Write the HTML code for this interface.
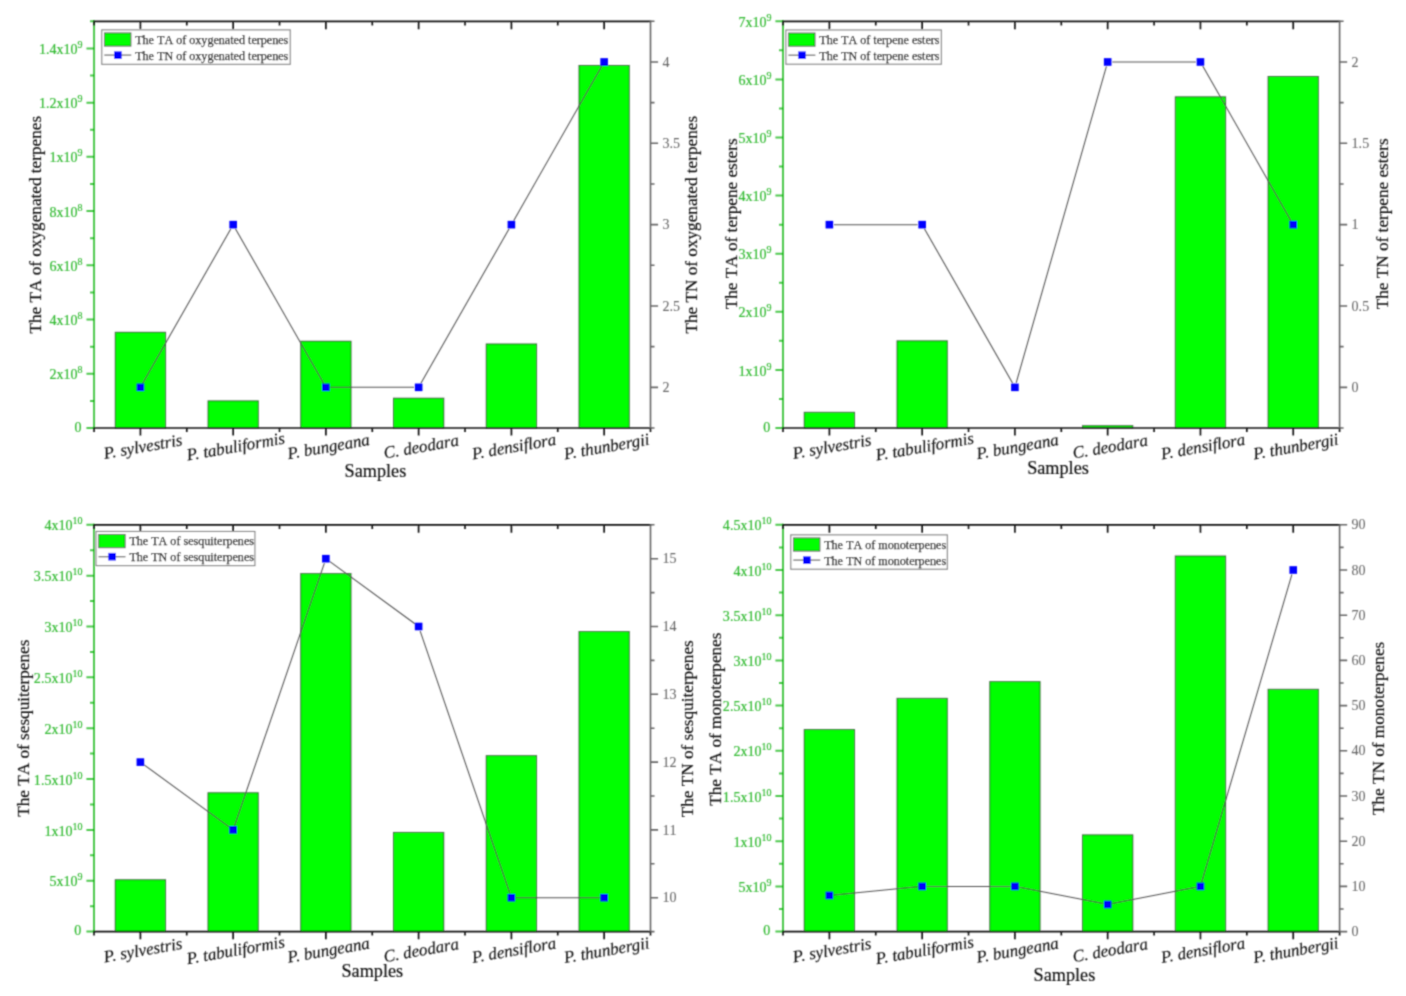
<!DOCTYPE html>
<html><head><meta charset="utf-8"><title>Terpene charts</title>
<style>html,body{margin:0;padding:0;background:#fff}body{width:1406px;height:996px;overflow:hidden}svg{display:block;font-family:"Liberation Serif",serif;font-kerning:none}</style>
</head><body>
<svg width="1406" height="996" viewBox="0 0 1406 996">
<rect width="1406" height="996" fill="#fff"/>
<defs><filter id="soft" filterUnits="userSpaceOnUse" x="0" y="0" width="1406" height="996"><feConvolveMatrix order="3" kernelMatrix="0.04 0.12 0.04 0.12 0.36 0.12 0.04 0.12 0.04" edgeMode="none"/></filter></defs>
<g filter="url(#soft)">
<g>
<rect x="115.27" y="332.29" width="50.3" height="95.71" fill="#00ff00" stroke="rgba(40,40,40,0.75)" stroke-width="1"/>
<rect x="208.01" y="400.89" width="50.3" height="27.11" fill="#00ff00" stroke="rgba(40,40,40,0.75)" stroke-width="1"/>
<rect x="300.75" y="341.24" width="50.3" height="86.76" fill="#00ff00" stroke="rgba(40,40,40,0.75)" stroke-width="1"/>
<rect x="393.5" y="398.18" width="50.3" height="29.82" fill="#00ff00" stroke="rgba(40,40,40,0.75)" stroke-width="1"/>
<rect x="486.24" y="343.95" width="50.3" height="84.05" fill="#00ff00" stroke="rgba(40,40,40,0.75)" stroke-width="1"/>
<rect x="578.98" y="65.49" width="50.3" height="362.51" fill="#00ff00" stroke="rgba(40,40,40,0.75)" stroke-width="1"/>
<g stroke="rgba(0,176,0,0.7)" stroke-width="2" fill="none">
<path d="M94.05 20.3V429"/>
<path d="M94.05 428h-7.6M94.05 373.77h-7.6M94.05 319.55h-7.6M94.05 265.32h-7.6M94.05 211.09h-7.6M94.05 156.87h-7.6M94.05 102.64h-7.6M94.05 48.41h-7.6M94.05 400.89h-4M94.05 346.66h-4M94.05 292.43h-4M94.05 238.21h-4M94.05 183.98h-4M94.05 129.75h-4M94.05 75.53h-4M94.05 21.3h-4"/>
</g>
<g stroke="#161616" stroke-width="1.7" fill="none">
<path d="M93.45 21.3H651.3"/>
<path d="M93.45 428H651.3"/>
<path d="M140.42 428v7.6M140.42 21.3v8M233.16 428v7.6M233.16 21.3v8M325.9 428v7.6M325.9 21.3v8M418.65 428v7.6M418.65 21.3v8M511.39 428v7.6M511.39 21.3v8M604.13 428v7.6M604.13 21.3v8M94.05 428v4M94.05 21.3v4.2M186.79 428v4M186.79 21.3v4.2M279.53 428v4M279.53 21.3v4.2M372.28 428v4M372.28 21.3v4.2M465.02 428v4M465.02 21.3v4.2M557.76 428v4M557.76 21.3v4.2M650.5 428v4"/>
</g>
<g stroke="#676767" stroke-width="1.6" fill="none">
<path d="M650.5 21.3V428M650.5 387.33h7.6M650.5 305.99h7.6M650.5 224.65h7.6M650.5 143.31h7.6M650.5 61.97h7.6M650.5 428h4M650.5 346.66h4M650.5 265.32h4M650.5 183.98h4M650.5 102.64h4M650.5 21.3h4"/>
</g>
<g font-size="14.05" fill="#32ba32" stroke="#32ba32" stroke-width="0.2" text-anchor="end">
<text x="81.45" y="431.8">0</text>
<text x="82.55" y="379.37">2x10<tspan font-size="10" dy="-6.0">8</tspan></text>
<text x="82.55" y="325.15">4x10<tspan font-size="10" dy="-6.0">8</tspan></text>
<text x="82.55" y="270.92">6x10<tspan font-size="10" dy="-6.0">8</tspan></text>
<text x="82.55" y="216.69">8x10<tspan font-size="10" dy="-6.0">8</tspan></text>
<text x="82.55" y="162.47">1x10<tspan font-size="10" dy="-6.0">9</tspan></text>
<text x="82.55" y="108.24">1.2x10<tspan font-size="10" dy="-6.0">9</tspan></text>
<text x="82.55" y="54.01">1.4x10<tspan font-size="10" dy="-6.0">9</tspan></text>
</g>
<g font-size="14.05" fill="#666666" stroke="#666666" stroke-width="0.05" text-anchor="start">
<text x="662.5" y="391.93">2</text>
<text x="662.5" y="310.59">2.5</text>
<text x="662.5" y="229.25">3</text>
<text x="662.5" y="147.91">3.5</text>
<text x="662.5" y="66.57">4</text>
</g>
<path d="M142.7 383.33L230.88 228.65M235.44 228.65L323.63 383.33M330.5 387.33L414.05 387.33M420.92 383.33L509.11 228.65M513.67 220.65L601.85 65.97" stroke="#525252" stroke-width="1.05" fill="none"/>
<rect x="136.62" y="383.53" width="7.6" height="7.6" fill="#0000ff"/>
<rect x="229.36" y="220.85" width="7.6" height="7.6" fill="#0000ff"/>
<rect x="322.1" y="383.53" width="7.6" height="7.6" fill="#0000ff"/>
<rect x="414.85" y="383.53" width="7.6" height="7.6" fill="#0000ff"/>
<rect x="507.59" y="220.85" width="7.6" height="7.6" fill="#0000ff"/>
<rect x="600.33" y="58.17" width="7.6" height="7.6" fill="#0000ff"/>
<rect x="101.8" y="29.9" width="188.4" height="34.4" fill="#fff" stroke="#7e7e7e" stroke-width="1.1"/>
<rect x="104.5" y="32.9" width="26.4" height="13.2" fill="#00ff00" stroke="rgba(40,40,40,0.75)" stroke-width="1"/>
<path d="M104.3 55.1h27" stroke="#707070" stroke-width="1.3"/>
<rect x="114.1" y="51.3" width="7.6" height="7.6" fill="#0000ff"/>
<g font-size="12.1" fill="#141414" stroke="#141414" stroke-width="0.25">
<text x="135.2" y="43.8">The TA of oxygenated terpenes</text>
<text x="135.2" y="59.6">The TN of oxygenated terpenes</text>
</g>
<g font-size="17.2" fill="#141414" stroke="#141414" stroke-width="0.2" text-anchor="middle">
<text transform="translate(41.4 224.7) rotate(-90)">The TA of oxygenated terpenes</text>
<text transform="translate(697 224.7) rotate(-90)">The TN of oxygenated terpenes</text>
<text x="375.4" y="477" font-size="18.2">Samples</text>
</g>
<g font-size="16.9" fill="#141414" stroke="#141414" stroke-width="0.15" text-anchor="middle" font-style="italic" style="font-kerning:normal">
<text transform="translate(143.92 452) rotate(-10)">P. sylvestris</text>
<text transform="translate(236.66 452) rotate(-10)">P. tabuliformis</text>
<text transform="translate(329.4 452) rotate(-10)">P. bungeana</text>
<text transform="translate(422.15 452) rotate(-10)">C. deodara</text>
<text transform="translate(514.89 452) rotate(-10)">P. densiflora</text>
<text transform="translate(607.63 452) rotate(-10)">P. thunbergii</text>
</g>
</g>
<g>
<rect x="804.23" y="412.31" width="50.3" height="15.69" fill="#00ff00" stroke="rgba(40,40,40,0.75)" stroke-width="1"/>
<rect x="897" y="340.85" width="50.3" height="87.15" fill="#00ff00" stroke="rgba(40,40,40,0.75)" stroke-width="1"/>
<rect x="1082.53" y="425.68" width="50.3" height="2.32" fill="#00ff00" stroke="rgba(40,40,40,0.75)" stroke-width="1"/>
<rect x="1175.3" y="96.83" width="50.3" height="331.17" fill="#00ff00" stroke="rgba(40,40,40,0.75)" stroke-width="1"/>
<rect x="1268.07" y="76.5" width="50.3" height="351.5" fill="#00ff00" stroke="rgba(40,40,40,0.75)" stroke-width="1"/>
<g stroke="rgba(0,176,0,0.7)" stroke-width="2" fill="none">
<path d="M783 20.3V429"/>
<path d="M783 428h-7.6M783 369.9h-7.6M783 311.8h-7.6M783 253.7h-7.6M783 195.6h-7.6M783 137.5h-7.6M783 79.4h-7.6M783 21.3h-7.6M783 398.95h-4M783 340.85h-4M783 282.75h-4M783 224.65h-4M783 166.55h-4M783 108.45h-4M783 50.35h-4"/>
</g>
<g stroke="#161616" stroke-width="1.7" fill="none">
<path d="M782.4 21.3H1340.4"/>
<path d="M782.4 428H1340.4"/>
<path d="M829.38 428v7.6M829.38 21.3v8M922.15 428v7.6M922.15 21.3v8M1014.92 428v7.6M1014.92 21.3v8M1107.68 428v7.6M1107.68 21.3v8M1200.45 428v7.6M1200.45 21.3v8M1293.22 428v7.6M1293.22 21.3v8M783 428v4M783 21.3v4.2M875.77 428v4M875.77 21.3v4.2M968.53 428v4M968.53 21.3v4.2M1061.3 428v4M1061.3 21.3v4.2M1154.07 428v4M1154.07 21.3v4.2M1246.83 428v4M1246.83 21.3v4.2M1339.6 428v4"/>
</g>
<g stroke="#676767" stroke-width="1.6" fill="none">
<path d="M1339.6 21.3V428M1339.6 387.33h7.6M1339.6 305.99h7.6M1339.6 224.65h7.6M1339.6 143.31h7.6M1339.6 61.97h7.6M1339.6 428h4M1339.6 346.66h4M1339.6 265.32h4M1339.6 183.98h4M1339.6 102.64h4M1339.6 21.3h4"/>
</g>
<g font-size="14.05" fill="#32ba32" stroke="#32ba32" stroke-width="0.2" text-anchor="end">
<text x="770.4" y="431.8">0</text>
<text x="771.5" y="375.5">1x10<tspan font-size="10" dy="-6.0">9</tspan></text>
<text x="771.5" y="317.4">2x10<tspan font-size="10" dy="-6.0">9</tspan></text>
<text x="771.5" y="259.3">3x10<tspan font-size="10" dy="-6.0">9</tspan></text>
<text x="771.5" y="201.2">4x10<tspan font-size="10" dy="-6.0">9</tspan></text>
<text x="771.5" y="143.1">5x10<tspan font-size="10" dy="-6.0">9</tspan></text>
<text x="771.5" y="85">6x10<tspan font-size="10" dy="-6.0">9</tspan></text>
<text x="771.5" y="26.9">7x10<tspan font-size="10" dy="-6.0">9</tspan></text>
</g>
<g font-size="14.05" fill="#666666" stroke="#666666" stroke-width="0.05" text-anchor="start">
<text x="1351.6" y="391.93">0</text>
<text x="1351.6" y="310.59">0.5</text>
<text x="1351.6" y="229.25">1</text>
<text x="1351.6" y="147.91">1.5</text>
<text x="1351.6" y="66.57">2</text>
</g>
<path d="M833.98 224.65L917.55 224.65M924.43 228.65L1012.64 383.33M1016.18 382.91L1106.42 66.39M1112.28 61.97L1195.85 61.97M1202.73 65.97L1290.94 220.65" stroke="#525252" stroke-width="1.05" fill="none"/>
<rect x="825.58" y="220.85" width="7.6" height="7.6" fill="#0000ff"/>
<rect x="918.35" y="220.85" width="7.6" height="7.6" fill="#0000ff"/>
<rect x="1011.12" y="383.53" width="7.6" height="7.6" fill="#0000ff"/>
<rect x="1103.88" y="58.17" width="7.6" height="7.6" fill="#0000ff"/>
<rect x="1196.65" y="58.17" width="7.6" height="7.6" fill="#0000ff"/>
<rect x="1289.42" y="220.85" width="7.6" height="7.6" fill="#0000ff"/>
<rect x="785.9" y="30" width="155.4" height="34.2" fill="#fff" stroke="#7e7e7e" stroke-width="1.1"/>
<rect x="788.6" y="33" width="26.4" height="13.2" fill="#00ff00" stroke="rgba(40,40,40,0.75)" stroke-width="1"/>
<path d="M788.4 55.2h27" stroke="#707070" stroke-width="1.3"/>
<rect x="798.2" y="51.4" width="7.6" height="7.6" fill="#0000ff"/>
<g font-size="12.1" fill="#141414" stroke="#141414" stroke-width="0.25">
<text x="819.3" y="43.9">The TA of terpene esters</text>
<text x="819.3" y="59.7">The TN of terpene esters</text>
</g>
<g font-size="17.2" fill="#141414" stroke="#141414" stroke-width="0.2" text-anchor="middle">
<text transform="translate(737 223.8) rotate(-90)">The TA of terpene esters</text>
<text transform="translate(1388 223.8) rotate(-90)">The TN of terpene esters</text>
<text x="1058" y="473.8" font-size="18.2">Samples</text>
</g>
<g font-size="16.9" fill="#141414" stroke="#141414" stroke-width="0.15" text-anchor="middle" font-style="italic" style="font-kerning:normal">
<text transform="translate(832.88 452) rotate(-10)">P. sylvestris</text>
<text transform="translate(925.65 452) rotate(-10)">P. tabuliformis</text>
<text transform="translate(1018.42 452) rotate(-10)">P. bungeana</text>
<text transform="translate(1111.18 452) rotate(-10)">C. deodara</text>
<text transform="translate(1203.95 452) rotate(-10)">P. densiflora</text>
<text transform="translate(1296.72 452) rotate(-10)">P. thunbergii</text>
</g>
</g>
<g>
<rect x="115.22" y="879.73" width="50.3" height="51.87" fill="#00ff00" stroke="rgba(40,40,40,0.75)" stroke-width="1"/>
<rect x="207.97" y="792.78" width="50.3" height="138.82" fill="#00ff00" stroke="rgba(40,40,40,0.75)" stroke-width="1"/>
<rect x="300.73" y="573.62" width="50.3" height="357.98" fill="#00ff00" stroke="rgba(40,40,40,0.75)" stroke-width="1"/>
<rect x="393.48" y="832.44" width="50.3" height="99.16" fill="#00ff00" stroke="rgba(40,40,40,0.75)" stroke-width="1"/>
<rect x="486.23" y="755.66" width="50.3" height="175.94" fill="#00ff00" stroke="rgba(40,40,40,0.75)" stroke-width="1"/>
<rect x="578.98" y="631.59" width="50.3" height="300.01" fill="#00ff00" stroke="rgba(40,40,40,0.75)" stroke-width="1"/>
<g stroke="rgba(0,176,0,0.7)" stroke-width="2" fill="none">
<path d="M94 523.8V932.6"/>
<path d="M94 931.6h-7.6M94 880.75h-7.6M94 829.9h-7.6M94 779.05h-7.6M94 728.2h-7.6M94 677.35h-7.6M94 626.5h-7.6M94 575.65h-7.6M94 524.8h-7.6M94 906.18h-4M94 855.33h-4M94 804.48h-4M94 753.62h-4M94 702.77h-4M94 651.92h-4M94 601.08h-4M94 550.22h-4"/>
</g>
<g stroke="#161616" stroke-width="1.7" fill="none">
<path d="M93.4 524.8H651.3"/>
<path d="M93.4 931.6H651.3"/>
<path d="M140.38 931.6v7.6M140.38 524.8v8M233.12 931.6v7.6M233.12 524.8v8M325.88 931.6v7.6M325.88 524.8v8M418.62 931.6v7.6M418.62 524.8v8M511.38 931.6v7.6M511.38 524.8v8M604.12 931.6v7.6M604.12 524.8v8M94 931.6v4M94 524.8v4.2M186.75 931.6v4M186.75 524.8v4.2M279.5 931.6v4M279.5 524.8v4.2M372.25 931.6v4M372.25 524.8v4.2M465 931.6v4M465 524.8v4.2M557.75 931.6v4M557.75 524.8v4.2M650.5 931.6v4"/>
</g>
<g stroke="#676767" stroke-width="1.6" fill="none">
<path d="M650.5 524.8V931.6M650.5 897.7h7.6M650.5 829.9h7.6M650.5 762.1h7.6M650.5 694.3h7.6M650.5 626.5h7.6M650.5 558.7h7.6M650.5 931.6h4M650.5 863.8h4M650.5 796h4M650.5 728.2h4M650.5 660.4h4M650.5 592.6h4M650.5 524.8h4"/>
</g>
<g font-size="14.05" fill="#32ba32" stroke="#32ba32" stroke-width="0.2" text-anchor="end">
<text x="81.4" y="935.4">0</text>
<text x="82.5" y="886.35">5x10<tspan font-size="10" dy="-6.0">9</tspan></text>
<text x="82.5" y="835.5">1x10<tspan font-size="10" dy="-6.0">10</tspan></text>
<text x="82.5" y="784.65">1.5x10<tspan font-size="10" dy="-6.0">10</tspan></text>
<text x="82.5" y="733.8">2x10<tspan font-size="10" dy="-6.0">10</tspan></text>
<text x="82.5" y="682.95">2.5x10<tspan font-size="10" dy="-6.0">10</tspan></text>
<text x="82.5" y="632.1">3x10<tspan font-size="10" dy="-6.0">10</tspan></text>
<text x="82.5" y="581.25">3.5x10<tspan font-size="10" dy="-6.0">10</tspan></text>
<text x="82.5" y="530.4">4x10<tspan font-size="10" dy="-6.0">10</tspan></text>
</g>
<g font-size="14.05" fill="#666666" stroke="#666666" stroke-width="0.05" text-anchor="start">
<text x="662.5" y="902.3">10</text>
<text x="662.5" y="834.5">11</text>
<text x="662.5" y="766.7">12</text>
<text x="662.5" y="698.9">13</text>
<text x="662.5" y="631.1">14</text>
<text x="662.5" y="563.3">15</text>
</g>
<path d="M144.09 764.81L229.41 827.19M234.61 825.55L324.39 563.05M329.59 561.41L414.91 623.79M420.11 630.85L509.89 893.35M515.98 897.7L599.52 897.7" stroke="#525252" stroke-width="1.05" fill="none"/>
<rect x="136.57" y="758.3" width="7.6" height="7.6" fill="#0000ff"/>
<rect x="229.32" y="826.1" width="7.6" height="7.6" fill="#0000ff"/>
<rect x="322.07" y="554.9" width="7.6" height="7.6" fill="#0000ff"/>
<rect x="414.82" y="622.7" width="7.6" height="7.6" fill="#0000ff"/>
<rect x="507.57" y="893.9" width="7.6" height="7.6" fill="#0000ff"/>
<rect x="600.33" y="893.9" width="7.6" height="7.6" fill="#0000ff"/>
<rect x="96" y="531.5" width="158.9" height="34.1" fill="#fff" stroke="#7e7e7e" stroke-width="1.1"/>
<rect x="98.7" y="534.5" width="26.4" height="13.2" fill="#00ff00" stroke="rgba(40,40,40,0.75)" stroke-width="1"/>
<path d="M98.5 556.7h27" stroke="#707070" stroke-width="1.3"/>
<rect x="108.3" y="552.9" width="7.6" height="7.6" fill="#0000ff"/>
<g font-size="12.1" fill="#141414" stroke="#141414" stroke-width="0.25">
<text x="129.4" y="545.4">The TA of sesquiterpenes</text>
<text x="129.4" y="561.2">The TN of sesquiterpenes</text>
</g>
<g font-size="17.2" fill="#141414" stroke="#141414" stroke-width="0.2" text-anchor="middle">
<text transform="translate(28.6 728.2) rotate(-90)">The TA of sesquiterpenes</text>
<text transform="translate(693 728.8) rotate(-90)">The TN of sesquiterpenes</text>
<text x="372.3" y="976.5" font-size="18.2">Samples</text>
</g>
<g font-size="16.9" fill="#141414" stroke="#141414" stroke-width="0.15" text-anchor="middle" font-style="italic" style="font-kerning:normal">
<text transform="translate(143.88 955.6) rotate(-10)">P. sylvestris</text>
<text transform="translate(236.62 955.6) rotate(-10)">P. tabuliformis</text>
<text transform="translate(329.38 955.6) rotate(-10)">P. bungeana</text>
<text transform="translate(422.12 955.6) rotate(-10)">C. deodara</text>
<text transform="translate(514.88 955.6) rotate(-10)">P. densiflora</text>
<text transform="translate(607.62 955.6) rotate(-10)">P. thunbergii</text>
</g>
</g>
<g>
<rect x="804.23" y="729.56" width="50.3" height="202.04" fill="#00ff00" stroke="rgba(40,40,40,0.75)" stroke-width="1"/>
<rect x="897" y="698.37" width="50.3" height="233.23" fill="#00ff00" stroke="rgba(40,40,40,0.75)" stroke-width="1"/>
<rect x="989.77" y="681.64" width="50.3" height="249.96" fill="#00ff00" stroke="rgba(40,40,40,0.75)" stroke-width="1"/>
<rect x="1082.53" y="834.87" width="50.3" height="96.73" fill="#00ff00" stroke="rgba(40,40,40,0.75)" stroke-width="1"/>
<rect x="1175.3" y="555.99" width="50.3" height="375.61" fill="#00ff00" stroke="rgba(40,40,40,0.75)" stroke-width="1"/>
<rect x="1268.07" y="689.33" width="50.3" height="242.27" fill="#00ff00" stroke="rgba(40,40,40,0.75)" stroke-width="1"/>
<g stroke="rgba(0,176,0,0.7)" stroke-width="2" fill="none">
<path d="M783 523.8V932.6"/>
<path d="M783 931.6h-7.6M783 886.4h-7.6M783 841.2h-7.6M783 796h-7.6M783 750.8h-7.6M783 705.6h-7.6M783 660.4h-7.6M783 615.2h-7.6M783 570h-7.6M783 524.8h-7.6M783 909h-4M783 863.8h-4M783 818.6h-4M783 773.4h-4M783 728.2h-4M783 683h-4M783 637.8h-4M783 592.6h-4M783 547.4h-4"/>
</g>
<g stroke="#161616" stroke-width="1.7" fill="none">
<path d="M782.4 524.8H1340.4"/>
<path d="M782.4 931.6H1340.4"/>
<path d="M829.38 931.6v7.6M829.38 524.8v8M922.15 931.6v7.6M922.15 524.8v8M1014.92 931.6v7.6M1014.92 524.8v8M1107.68 931.6v7.6M1107.68 524.8v8M1200.45 931.6v7.6M1200.45 524.8v8M1293.22 931.6v7.6M1293.22 524.8v8M783 931.6v4M783 524.8v4.2M875.77 931.6v4M875.77 524.8v4.2M968.53 931.6v4M968.53 524.8v4.2M1061.3 931.6v4M1061.3 524.8v4.2M1154.07 931.6v4M1154.07 524.8v4.2M1246.83 931.6v4M1246.83 524.8v4.2M1339.6 931.6v4"/>
</g>
<g stroke="#676767" stroke-width="1.6" fill="none">
<path d="M1339.6 524.8V931.6M1339.6 931.6h7.6M1339.6 886.4h7.6M1339.6 841.2h7.6M1339.6 796h7.6M1339.6 750.8h7.6M1339.6 705.6h7.6M1339.6 660.4h7.6M1339.6 615.2h7.6M1339.6 570h7.6M1339.6 524.8h7.6M1339.6 909h4M1339.6 863.8h4M1339.6 818.6h4M1339.6 773.4h4M1339.6 728.2h4M1339.6 683h4M1339.6 637.8h4M1339.6 592.6h4M1339.6 547.4h4"/>
</g>
<g font-size="14.05" fill="#32ba32" stroke="#32ba32" stroke-width="0.2" text-anchor="end">
<text x="770.4" y="935.4">0</text>
<text x="771.5" y="892">5x10<tspan font-size="10" dy="-6.0">9</tspan></text>
<text x="771.5" y="846.8">1x10<tspan font-size="10" dy="-6.0">10</tspan></text>
<text x="771.5" y="801.6">1.5x10<tspan font-size="10" dy="-6.0">10</tspan></text>
<text x="771.5" y="756.4">2x10<tspan font-size="10" dy="-6.0">10</tspan></text>
<text x="771.5" y="711.2">2.5x10<tspan font-size="10" dy="-6.0">10</tspan></text>
<text x="771.5" y="666">3x10<tspan font-size="10" dy="-6.0">10</tspan></text>
<text x="771.5" y="620.8">3.5x10<tspan font-size="10" dy="-6.0">10</tspan></text>
<text x="771.5" y="575.6">4x10<tspan font-size="10" dy="-6.0">10</tspan></text>
<text x="771.5" y="530.4">4.5x10<tspan font-size="10" dy="-6.0">10</tspan></text>
</g>
<g font-size="14.05" fill="#666666" stroke="#666666" stroke-width="0.05" text-anchor="start">
<text x="1351.6" y="936.2">0</text>
<text x="1351.6" y="891">10</text>
<text x="1351.6" y="845.8">20</text>
<text x="1351.6" y="800.6">30</text>
<text x="1351.6" y="755.4">40</text>
<text x="1351.6" y="710.2">50</text>
<text x="1351.6" y="665">60</text>
<text x="1351.6" y="619.8">70</text>
<text x="1351.6" y="574.6">80</text>
<text x="1351.6" y="529.4">90</text>
</g>
<path d="M833.96 894.99L917.57 886.85M926.75 886.4L1010.32 886.4M1019.43 887.28L1103.17 903.6M1112.2 903.6L1195.93 887.28M1201.74 881.99L1291.92 574.41" stroke="#525252" stroke-width="1.05" fill="none"/>
<rect x="825.58" y="891.64" width="7.6" height="7.6" fill="#0000ff"/>
<rect x="918.35" y="882.6" width="7.6" height="7.6" fill="#0000ff"/>
<rect x="1011.12" y="882.6" width="7.6" height="7.6" fill="#0000ff"/>
<rect x="1103.88" y="900.68" width="7.6" height="7.6" fill="#0000ff"/>
<rect x="1196.65" y="882.6" width="7.6" height="7.6" fill="#0000ff"/>
<rect x="1289.42" y="566.2" width="7.6" height="7.6" fill="#0000ff"/>
<rect x="790.8" y="534.9" width="156.5" height="34.3" fill="#fff" stroke="#7e7e7e" stroke-width="1.1"/>
<rect x="793.5" y="537.9" width="26.4" height="13.2" fill="#00ff00" stroke="rgba(40,40,40,0.75)" stroke-width="1"/>
<path d="M793.3 560.1h27" stroke="#707070" stroke-width="1.3"/>
<rect x="803.1" y="556.3" width="7.6" height="7.6" fill="#0000ff"/>
<g font-size="12.1" fill="#141414" stroke="#141414" stroke-width="0.25">
<text x="824.2" y="548.8">The TA of monoterpenes</text>
<text x="824.2" y="564.6">The TN of monoterpenes</text>
</g>
<g font-size="17.2" fill="#141414" stroke="#141414" stroke-width="0.2" text-anchor="middle">
<text transform="translate(721.3 719.2) rotate(-90)">The TA of monoterpenes</text>
<text transform="translate(1384 728.4) rotate(-90)">The TN of monoterpenes</text>
<text x="1064.4" y="980.6" font-size="18.2">Samples</text>
</g>
<g font-size="16.9" fill="#141414" stroke="#141414" stroke-width="0.15" text-anchor="middle" font-style="italic" style="font-kerning:normal">
<text transform="translate(832.88 955.6) rotate(-10)">P. sylvestris</text>
<text transform="translate(925.65 955.6) rotate(-10)">P. tabuliformis</text>
<text transform="translate(1018.42 955.6) rotate(-10)">P. bungeana</text>
<text transform="translate(1111.18 955.6) rotate(-10)">C. deodara</text>
<text transform="translate(1203.95 955.6) rotate(-10)">P. densiflora</text>
<text transform="translate(1296.72 955.6) rotate(-10)">P. thunbergii</text>
</g>
</g>
</g>
</svg></body></html>
